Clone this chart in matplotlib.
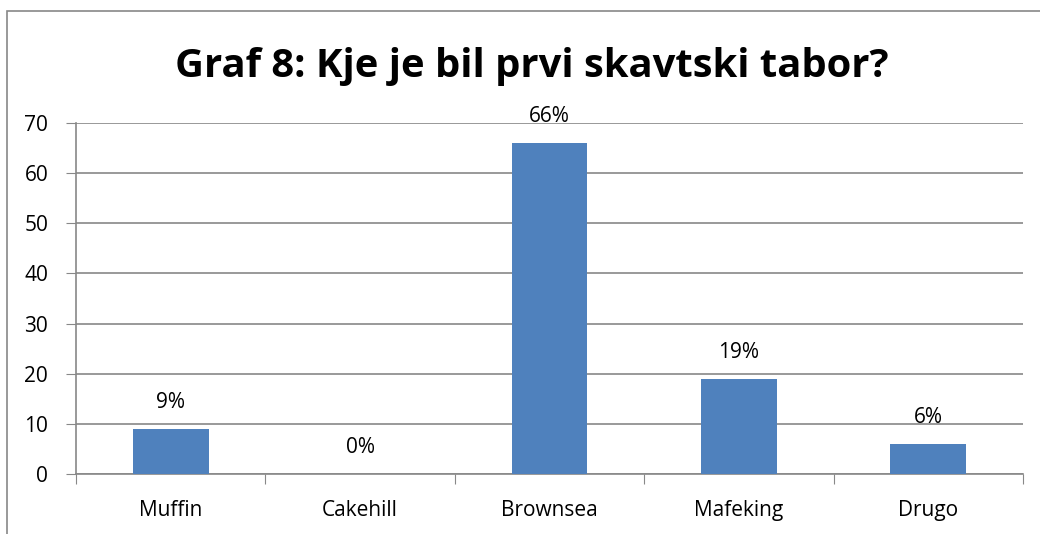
import matplotlib.pyplot as plt
from matplotlib.patches import Rectangle

# podatki
categories = ['Muffin', 'Cakehill', 'Brownsea', 'Mafeking', 'Drugo']
values = [9, 0, 66, 19, 6]
labels = ['9%', '0%', '66%', '19%', '6%']

plt.rcParams['font.family'] = ['Open Sans', 'DejaVu Sans']

fig = plt.figure(figsize=(10.4, 5.34), dpi=100)
ax = fig.add_axes([76 / 1040, 1 - 474 / 534, (1023 - 76) / 1040, (474 - 123) / 534])

# okvir okoli grafa
fig.patches.append(Rectangle((7 / 1040, -0.2), 1.2, 1.2 - 11 / 534,
                             transform=fig.transFigure, fill=False,
                             edgecolor='#888888', linewidth=1.2))

x = range(len(categories))
ax.bar(x, values, width=0.4, color='#4F81BD', zorder=3)
for i, v in enumerate(values):
    ax.annotate(labels[i], (i, v), xytext=(0, 19), textcoords='offset points',
                ha='center', va='center', fontsize=15)

ax.set_xlim(-0.5, 4.5)
ax.set_ylim(0, 70)
ax.set_yticks(range(0, 71, 10))
ax.set_xticks([i - 0.5 for i in range(6)], minor=False)
ax.set_xticklabels([])
ax.set_xticks(list(x), minor=True)
ax.set_xticklabels(categories, minor=True)
ax.tick_params(axis='x', which='major', length=7, color='#888888', direction='out')
ax.tick_params(axis='x', which='minor', length=0, pad=18.5, labelsize=15)
ax.tick_params(axis='y', length=7, color='#888888', labelsize=15, pad=13)
ax.grid(axis='y', color='#888888', linewidth=1.2, zorder=0)
for s in ['top', 'right']:
    ax.spines[s].set_visible(False)
for s in ['left', 'bottom']:
    ax.spines[s].set_color('#888888')
    ax.spines[s].set_linewidth(1.2)

fig.text(0.511, 1 - 67 / 534, 'Graf 8: Kje je bil prvi skavtski tabor?',
         ha='center', va='center', fontsize=28.8, fontweight='bold')

fig.savefig('out.png')
